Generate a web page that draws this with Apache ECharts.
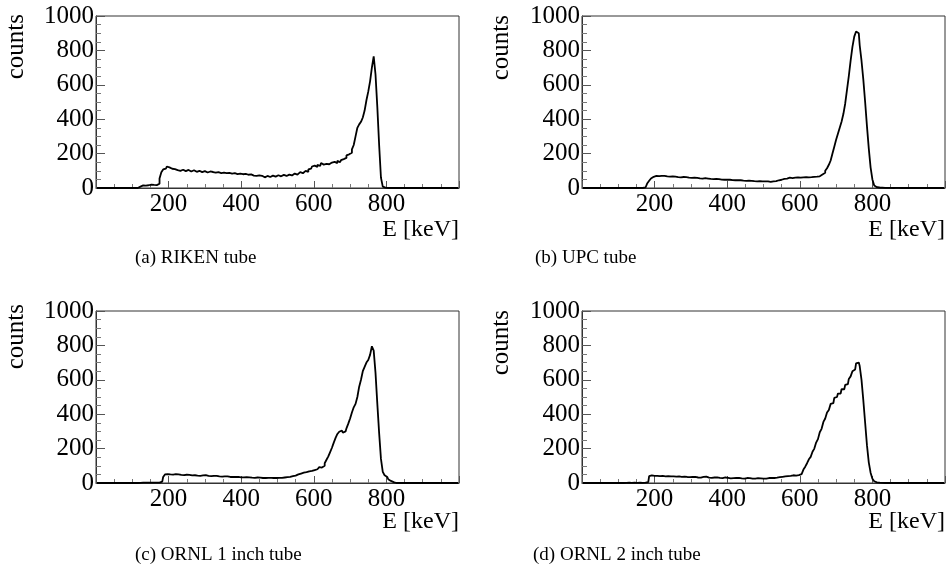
<!DOCTYPE html>
<html>
<head>
<meta charset="utf-8">
<script src="https://cdn.jsdelivr.net/npm/echarts@6/dist/echarts.min.js"></script>
<style>
html,body{margin:0;padding:0;background:#fff;}
#chart{width:951px;height:582px;}
</style>
</head>
<body>
<div id="chart"></div>
<script>
// Histogram binning (keV): 200 bins of 5 keV from 0 to 1000
const BIN_LOW = 0;
const BIN_WIDTH = 5;

const xTicks = [200, 400, 600, 800];
const yTicks = [0, 200, 400, 600, 800, 1000];
const xTitle = 'E [keV]';
const yTitle = 'counts';
const captions = ['(a) RIKEN tube', '(b) UPC tube', '(c) ORNL 1 inch tube', '(d) ORNL 2 inch tube'];

// counts per 5 keV bin, each row = 100 keV
const rikenCounts = [
  0,0,0,0,0,0,0,0,0,0,0,0,0,0,0,0,0,0,0,0,
  0,0,0,0,8,15,18,14,16,12,20,18,22,17,25,55,92,108,112,125,
  120,112,108,110,104,107,100,106,103,98,105,101,96,103,99,94,100,97,92,98,
  95,90,96,88,93,89,85,92,87,84,90,86,82,88,84,80,86,81,78,84,
  80,76,82,77,74,79,72,76,70,73,68,71,62,66,70,64,68,72,66,70,
  74,68,72,76,70,75,78,73,80,84,78,88,92,86,96,100,94,108,112,125,
  130,122,135,128,145,136,140,150,138,148,142,152,145,158,150,162,168,175,190,196,
  205,225,250,300,350,370,385,410,450,510,560,620,700,765,660,470,250,60,8,2,
  0,0,0,0,0,0,0,0,0,0,0,0,0,0,0,0,0,0,0,0,
  0,0,0,0,0,0,0,0,0,0,0,0,0,0,0,0,0,0,0,0
];
const upcCounts = [
  0,0,0,0,0,0,0,0,0,0,0,0,0,0,0,0,0,0,0,0,
  0,0,0,0,0,0,0,0,0,0,0,0,0,0,3,12,28,42,55,65,
  70,72,69,71,68,70,67,69,66,68,64,66,63,65,62,64,61,63,60,62,
  59,60,58,59,56,58,55,57,54,55,53,54,52,53,50,52,49,50,48,49,
  47,48,46,47,45,46,44,45,43,44,42,43,41,42,40,41,39,40,38,39,
  38,37,38,36,37,39,40,42,45,48,50,53,55,57,60,58,62,60,61,59,
  60,62,61,63,62,64,63,65,64,66,68,72,78,88,100,115,135,160,200,240,
  280,315,350,385,430,490,570,650,740,820,880,910,900,830,740,630,500,360,230,120,
  50,15,5,3,2,2,1,1,1,1,1,0,1,0,1,0,0,1,0,0,
  0,0,0,0,0,0,0,0,0,0,0,0,0,0,0,0,0,0,0,0
];
const ornl1Counts = [
  0,0,0,0,0,0,0,0,0,0,0,0,0,0,0,0,0,0,0,0,
  0,0,0,0,1,2,1,2,2,1,2,2,3,2,2,3,8,35,50,52,
  50,52,49,51,48,50,47,49,46,48,45,47,44,46,45,43,45,42,44,41,
  46,41,43,40,42,39,41,38,40,37,39,36,38,35,37,35,36,34,35,33,
  35,33,34,32,33,31,33,30,32,30,31,29,31,29,30,28,30,29,30,29,
  30,31,30,32,33,34,36,38,40,43,46,50,55,58,60,63,65,68,70,73,
  75,80,85,92,90,100,115,135,155,180,205,235,262,285,298,305,292,300,318,345,
  375,410,440,460,500,560,600,650,675,700,715,745,795,770,640,460,290,140,65,45,
  35,22,12,5,1,0,0,0,0,0,0,0,0,0,0,0,0,0,0,0,
  0,0,0,0,0,0,0,0,0,0,0,0,0,0,0,0,0,0,0,0
];
const ornl2Counts = [
  0,0,0,0,0,0,0,0,0,0,0,0,0,0,0,0,0,0,0,0,
  0,0,0,0,1,2,2,1,2,2,1,2,2,1,2,2,5,40,44,42,
  38,42,40,37,41,39,36,40,38,35,39,37,34,38,36,33,37,35,38,34,
  36,33,35,32,34,31,35,32,37,31,33,30,32,29,33,30,31,28,32,29,
  30,27,31,28,29,26,30,27,28,25,29,26,28,25,27,26,28,25,27,26,
  28,26,29,27,30,29,32,31,34,33,36,38,37,40,42,41,45,43,47,46,
  52,62,78,95,115,138,152,182,200,235,255,295,315,355,375,410,425,460,465,495,
  500,520,520,545,545,570,575,605,620,650,660,695,700,680,600,480,350,220,120,60,
  25,10,4,2,1,1,0,1,0,1,0,0,1,0,0,1,0,0,0,0,
  0,0,0,0,0,0,0,0,0,0,0,0,0,0,0,0,0,0,0,0
];

const panels = [rikenCounts, upcCounts, ornl1Counts, ornl2Counts];

function toBins(counts) {
  return counts.map((c, i) => [BIN_LOW + (i + 0.5) * BIN_WIDTH, c]);
}

const SERIF = '"Liberation Serif", "Times New Roman", serif';

const gridBoxes = [
  {left: 96, top: 16, width: 363, height: 172},
  {left: 582, top: 16, width: 363, height: 172},
  {left: 96, top: 311, width: 363, height: 172},
  {left: 582, top: 311, width: 363, height: 172}
];

const grids = gridBoxes.map(g => Object.assign({
  show: true, borderColor: '#333', borderWidth: 1, backgroundColor: 'transparent'
}, g));

const xAxes = gridBoxes.map((g, i) => ({
  gridIndex: i, type: 'value', min: 0, max: 1000, interval: 200,
  axisLine: {show: true, onZero: false, lineStyle: {color: '#333', width: 1}},
  axisTick: {show: true, inside: true, length: 7, lineStyle: {color: '#555'}},
  minorTick: {show: true, splitNumber: 4, length: 4, lineStyle: {color: '#777'}},
  splitLine: {show: false},
  axisLabel: {
    show: true, color: '#000', fontFamily: SERIF, fontSize: 25, margin: 4,
    formatter: v => (xTicks.indexOf(v) >= 0 ? String(v) : '')
  }
}));

const yAxes = gridBoxes.map((g, i) => ({
  gridIndex: i, type: 'value', min: 0, max: 1000, interval: 200,
  axisLine: {show: true, lineStyle: {color: '#333', width: 1}},
  axisTick: {show: true, inside: true, length: 9, lineStyle: {color: '#555'}},
  minorTick: {show: true, splitNumber: 4, length: 5, lineStyle: {color: '#777'}},
  splitLine: {show: false},
  axisLabel: {
    show: true, color: '#000', fontFamily: SERIF, fontSize: 25, margin: 2,
    formatter: v => (yTicks.indexOf(v) >= 0 ? String(v) : '')
  }
}));

const series = panels.map((counts, i) => ({
  type: 'line', xAxisIndex: i, yAxisIndex: i,
  data: toBins(counts), step: 'middle', showSymbol: false, symbol: 'none',
  lineStyle: {color: '#000', width: 1.8}, animation: false, silent: true
}));

const graphics = [];
const yTitlePos = [[16, 14], [501, 15], [16, 304], [501, 310]];
const xTitlePos = [[459, 230], [945, 230], [459, 522], [945, 522]];
const capPos = [[135, 258], [535, 258], [135, 555], [533, 555]];
for (let i = 0; i < 4; i++) {
  graphics.push({
    type: 'text', x: yTitlePos[i][0], y: yTitlePos[i][1], rotation: Math.PI / 2,
    style: {text: yTitle, font: '25px ' + SERIF, fill: '#000', align: 'right', verticalAlign: 'middle'}
  });
  graphics.push({
    type: 'text', x: xTitlePos[i][0], y: xTitlePos[i][1],
    style: {text: xTitle, font: '24px ' + SERIF, fill: '#000', align: 'right', verticalAlign: 'middle'}
  });
  graphics.push({
    type: 'text', x: capPos[i][0], y: capPos[i][1],
    style: {text: captions[i], font: '19px ' + SERIF, fill: '#000', align: 'left', verticalAlign: 'middle'}
  });
}

const chart = echarts.init(document.getElementById('chart'), null, {renderer: 'canvas'});
chart.setOption({
  animation: false,
  backgroundColor: '#fff',
  grid: grids,
  xAxis: xAxes,
  yAxis: yAxes,
  series: series,
  graphic: graphics
});
</script>
</body>
</html>
